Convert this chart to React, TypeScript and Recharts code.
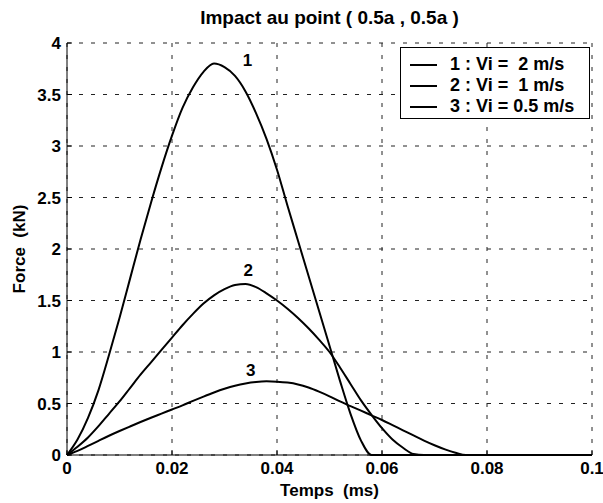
import React from "react"
import {
  LineChart,
  Line,
  XAxis,
  YAxis,
  CartesianGrid,
  Legend,
  ReferenceDot,
} from "recharts"

// Temps (ms), sampled every 0.002, then the flat tail out to 0.1
const time = [
  0, 0.002, 0.004, 0.006, 0.008, 0.01, 0.012, 0.014, 0.016, 0.018,
  0.02, 0.022, 0.024, 0.026, 0.028, 0.03, 0.032, 0.034, 0.036, 0.038,
  0.04, 0.042, 0.044, 0.046, 0.048, 0.05, 0.052, 0.054, 0.056, 0.058,
  0.06, 0.062, 0.064, 0.066, 0.068, 0.07, 0.072, 0.074, 0.076, 0.1,
]

// Force (kN)
const force1 = [
  0, 0.15, 0.36, 0.63, 0.97, 1.33, 1.71, 2.09, 2.45, 2.79,
  3.1, 3.37, 3.57, 3.72, 3.8, 3.765, 3.68, 3.53, 3.32, 3.07,
  2.77, 2.42, 2.08, 1.74, 1.4, 1.06, 0.72, 0.4, 0.14, 0,
  0, 0, 0, 0, 0, 0, 0, 0, 0, 0,
]
const force2 = [
  0, 0.08, 0.17, 0.28, 0.4, 0.52, 0.65, 0.78, 0.9, 1.02,
  1.14, 1.26, 1.37, 1.47, 1.55, 1.61, 1.65, 1.66, 1.63, 1.57,
  1.5, 1.42, 1.33, 1.23, 1.12, 1.0, 0.85, 0.69, 0.53, 0.39,
  0.26, 0.15, 0.07, 0.01, 0, 0, 0, 0, 0, 0,
]
const force3 = [
  0, 0.04, 0.088, 0.138, 0.187, 0.233, 0.277, 0.32, 0.362, 0.402,
  0.442, 0.482, 0.525, 0.567, 0.607, 0.643, 0.673, 0.695, 0.709, 0.715,
  0.712, 0.703, 0.685, 0.655, 0.615, 0.57, 0.52, 0.475, 0.43, 0.385,
  0.34, 0.29, 0.24, 0.19, 0.14, 0.095, 0.055, 0.022, 0, 0,
]

const legendLabels = ["1 : Vi =  2 m/s", "2 : Vi =  1 m/s", "3 : Vi = 0.5 m/s"]
const curveTags = ["1", "2", "3"]
const tagTimes = [0.0344, 0.0345, 0.035]
const tagForces = [3.84, 1.8, 0.83]

const xTicks = [0, 0.02, 0.04, 0.06, 0.08, 0.1]
const yTicks = [0, 0.5, 1, 1.5, 2, 2.5, 3, 3.5, 4]

// recharts' Text collapses runs of spaces, keep the double gap with a nbsp
const xTitle = "Temps \u00a0(ms)"
const yTitle = "Force \u00a0(kN)"

const FONT = "'Liberation Sans', Arial, Helvetica, sans-serif"

const toRows = (f: number[]) => time.map((t, i) => ({ t, f: f[i] }))
const series = [toRows(force1), toRows(force2), toRows(force3)]

const tickStyle = { fill: "#000", fontSize: 17, fontWeight: "bold", fontFamily: FONT }

const LegendBox = () => (
  <div
    style={{
      width: 190,
      height: 72,
      boxSizing: "border-box",
      border: "1px solid #000",
      background: "#fff",
      paddingTop: 6,
      fontFamily: FONT,
      fontWeight: "bold",
      fontSize: 18,
      color: "#000",
    }}
  >
    {legendLabels.map((label) => (
      <div key={label} style={{ height: 21, display: "flex", alignItems: "center" }}>
        <div style={{ marginLeft: 9, width: 27, height: 2, background: "#000" }} />
        <div style={{ marginLeft: 13, whiteSpace: "pre" }}>{label}</div>
      </div>
    ))}
  </div>
)

export default function App() {
  return (
    <div style={{ position: "absolute", left: 0, top: 0, width: 603, height: 503, background: "#fff" }}>
      <div
        style={{
          position: "absolute",
          left: 67,
          top: 7,
          width: 525,
          textAlign: "center",
          fontFamily: FONT,
          fontWeight: "bold",
          fontSize: 19,
          lineHeight: "22px",
          color: "#000",
        }}
      >
        Impact au point ( 0.5a , 0.5a )
      </div>
      <LineChart width={603} height={503} margin={{ top: 43, right: 11, bottom: 18, left: 20 }}>
        <CartesianGrid stroke="#222" strokeDasharray="4 8" />
        <XAxis
          dataKey="t"
          type="number"
          domain={[0, 0.1]}
          ticks={xTicks}
          interval={0}
          height={30}
          tickSize={-5}
          tickMargin={12}
          tickFormatter={(v) => String(v)}
          stroke="#000"
          tick={tickStyle}
          label={{
            value: xTitle,
            position: "bottom",
            offset: -1,
            fill: "#000",
            fontSize: 17,
            fontWeight: "bold",
            fontFamily: FONT,
          }}
        />
        <YAxis
          type="number"
          domain={[0, 4]}
          ticks={yTicks}
          interval={0}
          width={47}
          tickSize={-5}
          tickMargin={11}
          stroke="#000"
          tick={tickStyle}
          label={{
            value: yTitle,
            angle: -90,
            position: "insideLeft",
            offset: -1,
            fill: "#000",
            fontSize: 17,
            fontWeight: "bold",
            fontFamily: FONT,
            style: { textAnchor: "middle" },
          }}
        />
        <Legend
          layout="horizontal"
          verticalAlign="middle"
          align="center"
          wrapperStyle={{ top: 47, left: 400, width: 190, height: 72 }}
          content={() => <LegendBox />}
        />
        {series.map((rows, i) => (
          <Line
            key={legendLabels[i]}
            data={rows}
            dataKey="f"
            name={legendLabels[i]}
            type="monotone"
            stroke="#000"
            strokeWidth={2}
            dot={false}
            activeDot={false}
            isAnimationActive={false}
          />
        ))}
        {curveTags.map((tag, i) => (
          <ReferenceDot
            key={tag}
            x={tagTimes[i]}
            y={tagForces[i]}
            r={0}
            fill="none"
            stroke="none"
            label={{ value: tag, position: "center", fill: "#000", fontSize: 17, fontWeight: "bold", fontFamily: FONT }}
          />
        ))}
      </LineChart>
    </div>
  )
}
